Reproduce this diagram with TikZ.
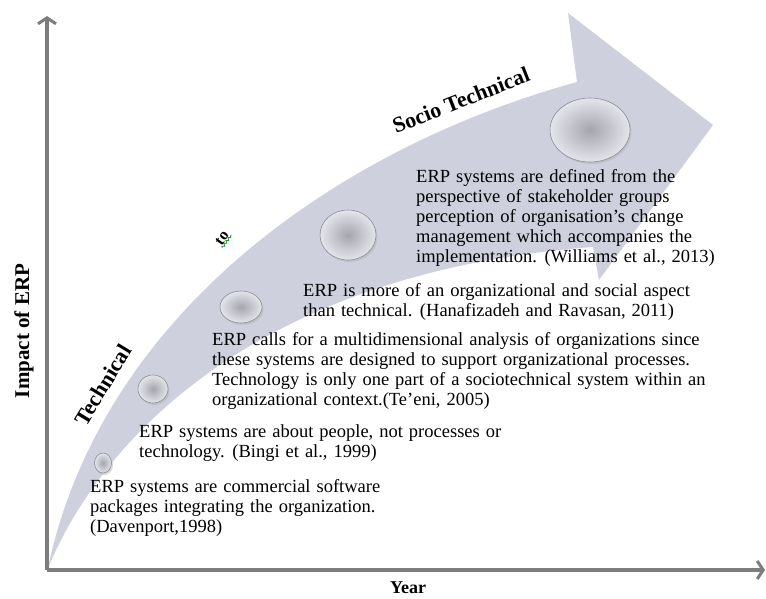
\documentclass[tikz,border=0pt]{standalone}
\usepackage{fontspec}
\setmainfont{Liberation Serif}
\usetikzlibrary{arrows.meta,decorations.pathmorphing}
\definecolor{bandc}{RGB}{207,208,221}
\definecolor{axisc}{RGB}{125,125,125}
\definecolor{orbin}{RGB}{165,165,175}
\definecolor{orbout}{RGB}{228,228,235}
\definecolor{orbrim}{RGB}{140,140,150}
\definecolor{squig}{RGB}{40,150,40}
\newcommand{\bodyfont}{\fontsize{18.5}{20}\selectfont\spaceskip=6pt plus 1pt minus 1pt\relax}
\begin{document}
\begin{tikzpicture}[x=1pt,y=-1pt,
  body/.style={font=\bodyfont, align=left, anchor=north west, inner sep=0pt},
  lbl/.style={font=\fontsize{22}{24}\selectfont\bfseries, inner sep=0pt},
  axisline/.style={draw=axisc, line width=3.2pt, -{Straight Barb[length=6pt,width=18pt,line width=3pt]}},
  orbshade/.style={inner color=orbin, outer color=orbout},
  orbedge/.style={draw=orbrim, line width=0.6pt}]
\useasboundingbox (0,0) rectangle (766,598);
% band arrow
\fill[bandc] (48,568) .. controls (100,320) and (330,150) .. (577,82)
  -- (568,13) -- (713,125) -- (599,280) -- (593,247)
  .. controls (280,270) and (110,420) .. (48,568) -- cycle;
% orbs
\foreach \cx/\cy/\rx/\ry in {103/463/8.5/10, 153/389/15/14, 241/307/21/16, 348/235/28/25, 590/130/40/32}{
  \fill[gray!60, opacity=0.5] (\cx+1.5,\cy+2) ellipse [x radius=\rx, y radius=\ry];
  \shade[orbshade] (\cx,\cy) ellipse [x radius=\rx, y radius=\ry];
  \draw[orbedge] (\cx,\cy) ellipse [x radius=\rx, y radius=\ry];
}
% axes
\coordinate (O) at (47,570);
\coordinate (ytop) at (47,16);
\coordinate (xend) at (765,570);
\draw[axisline] (O) -- (ytop);
\draw[axisline] (O) -- (xend);
\node[lbl, font=\fontsize{21}{24}\selectfont\bfseries, rotate=90] (ylab) at (24,331) {Impact of ERP};
\node[font=\fontsize{18}{20}\selectfont\bfseries, inner sep=0pt] (xlab) at (408,588) {Year};
% band labels
\node[lbl, rotate=58.6] (tech) at (103,385) {Technical};
\node[lbl, rotate=21.4] (socio) at (461,100) {Socio Technical};
\node[font=\fontsize{16}{18}\selectfont\bfseries, rotate=55, inner sep=1pt] (to) at (222,238) {to};
\draw[squig, line width=0.8pt, decorate, decoration={snake, amplitude=1.2pt, segment length=3.5pt}] (to.south west) -- (to.south east);
% texts
\node[body] (t1) at (90,479) {ERP systems are commercial software\\packages integrating the organization.\\(Davenport,1998)};
\node[body] (t2) at (139,424) {ERP systems are about people, not processes or\\technology. (Bingi et al., 1999)};
\node[body] (t3) at (212,332) {ERP calls for a multidimensional analysis of organizations since\\these systems are designed to support organizational processes.\\Technology is only one part of a sociotechnical system within an\\organizational context.(Te’eni, 2005)};
\node[body] (t4) at (303,283) {ERP is more of an organizational and social aspect\\than technical. (Hanafizadeh and Ravasan, 2011)};
\node[body] (t5) at (416,169) {ERP systems are defined from the\\perspective of stakeholder groups\\perception of organisation’s change\\management which accompanies the\\implementation. (Williams et al., 2013)};
\end{tikzpicture}
\end{document}
